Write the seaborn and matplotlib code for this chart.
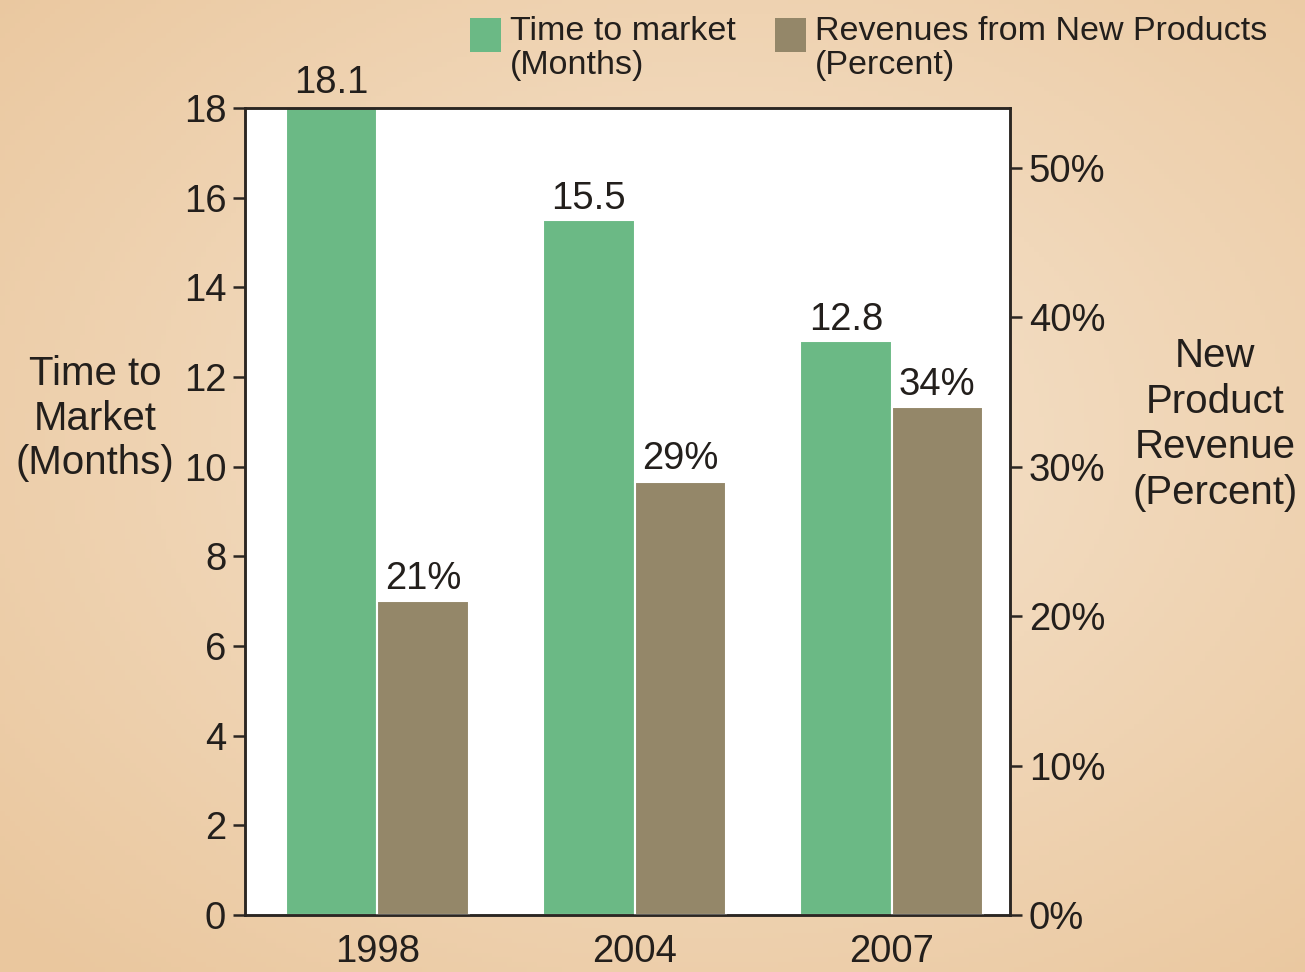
import matplotlib
matplotlib.use("Agg")
import matplotlib.pyplot as plt
from matplotlib.patches import Rectangle
import numpy as np
import pandas as pd
import seaborn as sns

# --- data ------------------------------------------------------------------
years = ["1998", "2004", "2007"]
time_to_market = [18.1, 15.5, 12.8]          # months (left axis)
new_product_revenue = [21, 29, 34]           # percent (right axis)
left_ticks = [0, 2, 4, 6, 8, 10, 12, 14, 16, 18]
right_ticks = [0, 10, 20, 30, 40, 50]
series_names = ["Time to market", "Revenues from New Products"]

GREEN = "#6bb985"
BROWN = "#948769"
INK = "#231f1c"
SPINE = "#2b2622"

sns.set_style("ticks")
plt.rcParams["font.family"] = ["Liberation Sans", "DejaVu Sans"]
plt.rcParams["text.color"] = INK

# long table: each series has its own value column, NaN for the other
df = pd.DataFrame({
    "year": years * 2,
    "series": [series_names[0]] * 3 + [series_names[1]] * 3,
    "months": time_to_market + [np.nan] * 3,
    "percent": [np.nan] * 3 + new_product_revenue,
})
palette = dict(zip(series_names, [GREEN, BROWN]))

fig = plt.figure(figsize=(13.05, 9.72), dpi=100)

# peach background with a lighter centre
bg = fig.add_axes([0, 0, 1, 1], zorder=-10)
yy, xx = np.mgrid[0:1:200j, 0:1:260j]
r = np.clip(np.hypot((xx - 0.55) / 0.75, (yy - 0.45) / 0.75), 0, 1)
inner = np.array([246, 228, 206]) / 255
outer = np.array([234, 199, 158]) / 255
bg.imshow(inner * (1 - r[..., None]) + outer * r[..., None], aspect="auto",
          extent=(0, 1, 0, 1), origin="upper")
bg.axis("off")

ax = fig.add_axes([0.1877, 0.0586, 0.5862, 0.8303])
ax.set_facecolor("white")
ax2 = ax.twinx()

bar_kw = dict(x="year", hue="series", hue_order=series_names, palette=palette,
              width=0.71, saturation=1, errorbar=None, legend=False,
              edgecolor="white", linewidth=1.5)
sns.barplot(data=df, y="months", ax=ax, **bar_kw)
sns.barplot(data=df, y="percent", ax=ax2, **bar_kw)

ax.set_xlim(-0.515, 2.46)
ax.set_ylim(0, 18)
ax2.set_ylim(0, 54)

ax.set_yticks(left_ticks)
ax.set_yticklabels([str(t) for t in left_ticks])
ax2.set_yticks(right_ticks)
ax2.set_yticklabels([f"{t}%" for t in right_ticks])

for a in (ax, ax2):
    a.set_xlabel("")
    for s in a.spines.values():
        s.set_visible(True)
        s.set_color(SPINE)
        s.set_linewidth(1.8)
    a.tick_params(axis="y", direction="out", length=8.5, width=1.8,
                  color=SPINE, labelsize=27.5, labelcolor=INK, pad=5)
    a.tick_params(axis="x", length=0, labelsize=27.5, labelcolor=INK, pad=14)

ax.set_ylabel("Time to\nMarket\n(Months)", rotation=0, fontsize=29,
              color=INK, ha="center", va="center", linespacing=1.22)
ax.yaxis.set_label_coords(-0.196, 0.615)
ax2.set_ylabel("New\nProduct\nRevenue\n(Percent)", rotation=0, fontsize=29,
               color=INK, ha="center", va="center", linespacing=1.25)
ax2.yaxis.set_label_coords(1.268, 0.608)

# value labels above the bars
for cont in ax.containers:
    if len(cont) == len(years):
        ax.bar_label(cont, labels=[f"{v:.1f}" for v in time_to_market],
                     padding=2, fontsize=27.5, color=INK, annotation_clip=False)
for cont in ax2.containers:
    if len(cont) == len(years):
        ax2.bar_label(cont, labels=[f"{v}%" for v in new_product_revenue],
                      padding=3, fontsize=27.5, color=INK, annotation_clip=False)

# legend at the top: swatch + two-line text
legend_items = [
    (GREEN, "Time to market\n(Months)", 470 / 1305),
    (BROWN, "Revenues from New Products\n(Percent)", 775 / 1305),
]
for color, text, x0 in legend_items:
    fig.add_artist(Rectangle((x0, 1 - 52 / 972), 31 / 1305, 34 / 972,
                             transform=fig.transFigure, facecolor=color,
                             edgecolor="none"))
    fig.text(x0 + 40 / 1305, 1 - 16 / 972, text, fontsize=24.5, color=INK,
             ha="left", va="top", linespacing=1.12)

fig.savefig("out.png", dpi=100)
